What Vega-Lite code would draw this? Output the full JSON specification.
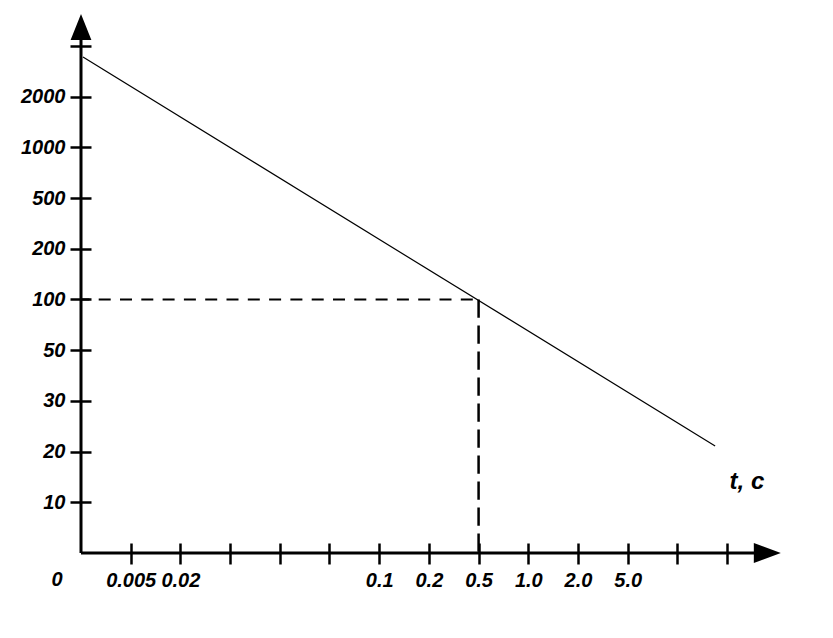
{
  "$schema": "https://vega.github.io/schema/vega-lite/v6.json",
  "width": 700,
  "height": 539,
  "autosize": "none",
  "padding": {"left": 81, "top": 14, "right": 52, "bottom": 85},
  "background": "white",
  "config": {"view": {"stroke": null}},
  "datasets": {
    "curve": [{"x": 0.04, "y": 9.78}, {"x": 12.76, "y": 2.11}],
    "hdash": [{"x": 0, "x2": 8, "y": 5}],
    "vdash": [{"x": 8, "y": 5, "y2": 0}],
    "xaxisline": [{"x": 0, "x2": 13.6, "y": 0}],
    "yaxisline": [{"x": 0, "y": 0, "y2": 10.15}],
    "uparrow": [{"x": 0, "y": 10.375}],
    "rightarrow": [{"x": 13.81, "y": 0}],
    "unitlabel": [{"x": 13.4, "y": 1.4, "text": "t, c"}],
    "originlabel": [{"x": -0.48, "y": -0.53, "text": "0"}]
  },
  "layer": [
    {
      "data": {"name": "curve"},
      "mark": {"type": "line", "color": "black", "strokeWidth": 1.2},
      "encoding": {
        "x": {
          "field": "x", "type": "quantitative",
          "scale": {"domain": [0, 14.085], "nice": false, "zero": false},
          "axis": {
            "title": null, "domain": false, "grid": false,
            "values": [1,2,3,4,5,6,7,8,9,10,11,12,13],
            "labelExpr": "['','0.005','0.02','','','','0.1','0.2','0.5','1.0','2.0','5.0','',''][datum.value]",
            "offset": -10, "tickSize": 21, "tickWidth": 2.5, "tickColor": "black",
            "labelBaseline": "middle", "labelPadding": 16.5,
            "labelFont": "Liberation Sans", "labelFontSize": 20, "labelFontWeight": "bold", "labelFontStyle": "italic",
            "labelColor": "black", "labelOverlap": false, "labelFlush": false
          }
        },
        "y": {
          "field": "y", "type": "quantitative",
          "scale": {"domain": [0, 10.63], "nice": false, "zero": false},
          "axis": {
            "title": null, "domain": false, "grid": false,
            "values": [1,2,3,4,5,6,7,8,9,10],
            "labelExpr": "['','10','20','30','50','100','200','500','1000','2000',''][datum.value]",
            "offset": -10, "tickSize": 21, "tickWidth": 2.5, "tickColor": "black",
            "labelPadding": 5, "labelAlign": "right", "labelBaseline": "middle",
            "labelFont": "Liberation Sans", "labelFontSize": 20, "labelFontWeight": "bold", "labelFontStyle": "italic",
            "labelColor": "black", "labelOverlap": false, "labelFlush": false
          }
        }
      }
    },
    {
      "data": {"name": "hdash"},
      "mark": {"type": "rule", "color": "black", "strokeWidth": 2, "strokeDash": [12, 9.3], "strokeDashOffset": 3.6},
      "encoding": {
        "x": {"field": "x", "type": "quantitative"},
        "x2": {"field": "x2"},
        "y": {"field": "y", "type": "quantitative"}
      }
    },
    {
      "data": {"name": "vdash"},
      "mark": {"type": "rule", "color": "black", "strokeWidth": 2.5, "strokeDash": [18.3, 7.7]},
      "encoding": {
        "x": {"field": "x", "type": "quantitative"},
        "y": {"field": "y", "type": "quantitative"},
        "y2": {"field": "y2"}
      }
    },
    {
      "data": {"name": "xaxisline"},
      "mark": {"type": "rule", "color": "black", "strokeWidth": 3},
      "encoding": {
        "x": {"field": "x", "type": "quantitative"},
        "x2": {"field": "x2"},
        "y": {"field": "y", "type": "quantitative"}
      }
    },
    {
      "data": {"name": "yaxisline"},
      "mark": {"type": "rule", "color": "black", "strokeWidth": 3},
      "encoding": {
        "x": {"field": "x", "type": "quantitative"},
        "y": {"field": "y", "type": "quantitative"},
        "y2": {"field": "y2"}
      }
    },
    {
      "data": {"name": "uparrow"},
      "mark": {"type": "point", "filled": true, "color": "black", "opacity": 1, "size": 676, "shape": "M-0.8,1L0.8,1L0,-1Z"},
      "encoding": {
        "x": {"field": "x", "type": "quantitative"},
        "y": {"field": "y", "type": "quantitative"}
      }
    },
    {
      "data": {"name": "rightarrow"},
      "mark": {"type": "point", "filled": true, "color": "black", "opacity": 1, "size": 729, "shape": "M-1,-0.74L1,0L-1,0.74Z"},
      "encoding": {
        "x": {"field": "x", "type": "quantitative"},
        "y": {"field": "y", "type": "quantitative"}
      }
    },
    {
      "data": {"name": "unitlabel"},
      "mark": {"type": "text", "font": "Liberation Sans", "fontSize": 24, "fontWeight": "bold", "fontStyle": "italic", "color": "black", "align": "center", "baseline": "middle"},
      "encoding": {
        "x": {"field": "x", "type": "quantitative"},
        "y": {"field": "y", "type": "quantitative"},
        "text": {"field": "text"}
      }
    },
    {
      "data": {"name": "originlabel"},
      "mark": {"type": "text", "font": "Liberation Sans", "fontSize": 20, "fontWeight": "bold", "fontStyle": "italic", "color": "black", "align": "center", "baseline": "middle"},
      "encoding": {
        "x": {"field": "x", "type": "quantitative"},
        "y": {"field": "y", "type": "quantitative"},
        "text": {"field": "text"}
      }
    }
  ]
}
